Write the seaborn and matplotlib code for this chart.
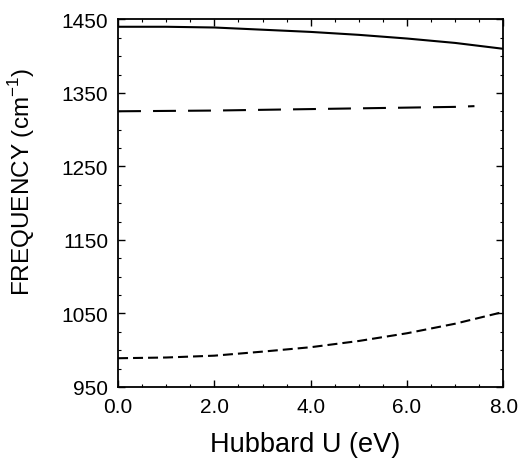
import pandas as pd
import matplotlib.pyplot as plt
import seaborn as sns
from matplotlib.ticker import MultipleLocator, FormatStrFormatter

# values
hubbard_u = [0.0, 1.0, 2.0, 3.0, 4.0, 5.0, 6.0, 7.0, 8.0]
mode_high = [1440, 1440, 1439, 1436, 1433, 1429, 1424, 1418, 1410]
hubbard_u_mid = [0.0, 1.0, 2.0, 3.0, 4.0, 5.0, 6.0, 7.0, 7.4]
mode_mid = [1325, 1325.5, 1326, 1327, 1328, 1329, 1330, 1331, 1332]
mode_low = [989, 990, 992.5, 998, 1004, 1012.5, 1023, 1036, 1052]
y_ticks = [950, 1050, 1150, 1250, 1350, 1450]

frames = [
    pd.DataFrame({"U": hubbard_u, "freq": mode_high, "mode": "high"}),
    pd.DataFrame({"U": hubbard_u_mid, "freq": mode_mid, "mode": "mid"}),
    pd.DataFrame({"U": hubbard_u, "freq": mode_low, "mode": "low"}),
]
df = pd.concat(frames, ignore_index=True)

sns.set_style("ticks")
plt.rcParams["font.family"] = ["Liberation Sans", "DejaVu Sans"]
plt.rcParams["mathtext.fontset"] = "custom"
plt.rcParams["mathtext.rm"] = "Liberation Sans"
plt.rcParams["text.color"] = "black"
plt.rcParams["axes.labelcolor"] = "black"
plt.rcParams["xtick.color"] = "black"
plt.rcParams["ytick.color"] = "black"

fig = plt.figure(figsize=(5.2, 4.64), dpi=100)
ax = fig.add_axes([0.227, 0.164, 0.741, 0.792])

sns.lineplot(
    data=df, x="U", y="freq", style="mode",
    dashes={"high": "", "mid": (11, 5.8), "low": (4.8, 2.4)},
    color="black", linewidth=1.5, legend=False, ax=ax,
)

ax.set_xlim(0, 8)
ax.set_ylim(950, 1450)
ax.xaxis.set_major_locator(MultipleLocator(2))
ax.set_yticks(y_ticks)
ax.xaxis.set_minor_locator(MultipleLocator(0.5))
ax.yaxis.set_minor_locator(MultipleLocator(25))
ax.xaxis.set_major_formatter(FormatStrFormatter("%.1f"))
ax.tick_params(which="both", direction="in", top=True, right=True,
               labelsize=15, pad=7)
ax.tick_params(which="major", length=5, width=1)
ax.tick_params(which="minor", length=2.5, width=0.8)
for s in ax.spines.values():
    s.set_linewidth(1.3)
    s.set_color("black")

ax.set_xlabel("Hubbard U (eV)", fontsize=19.5)
ax.xaxis.set_label_coords(0.486, -0.12)
ax.set_ylabel("FREQUENCY (cm$^{-1}$)", fontsize=17.5)
ax.yaxis.set_label_coords(-0.21, 0.56)

plt.savefig("out.png", dpi=100)
